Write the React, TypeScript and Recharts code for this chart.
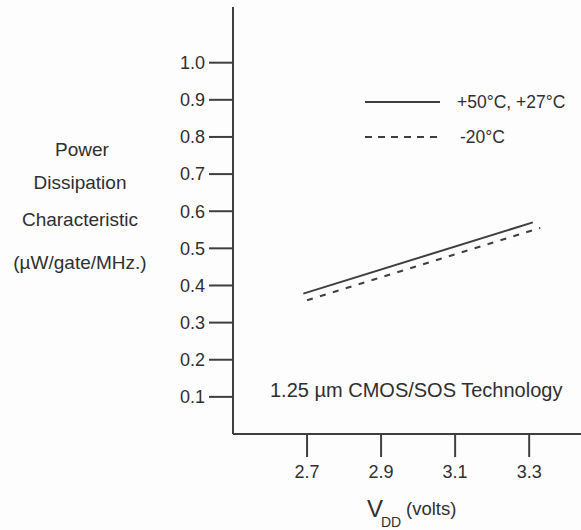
import React from 'react';
import { LineChart, Line, XAxis, YAxis, Legend, Customized } from 'recharts';

// Data
const warmVdd = [2.69, 3.31];
const warmPower = [0.378, 0.57];
const coldVdd = [2.7, 3.33];
const coldPower = [0.36, 0.555];

const xTicks = [2.7, 2.9, 3.1, 3.3];
const yTicks = [0.1, 0.2, 0.3, 0.4, 0.5, 0.6, 0.7, 0.8, 0.9, 1.0];

const seriesNames = ['+50°C, +27°C', '-20°C'];
const yLabelLines = ['Power', 'Dissipation', 'Characteristic', '(µW/gate/MHz.)'];
const noteText = '1.25 µm CMOS/SOS Technology';

const warmData = warmVdd.map((v, i) => ({ v, p: warmPower[i] }));
const coldData = coldVdd.map((v, i) => ({ v, p: coldPower[i] }));

const FONT = '"Liberation Sans", Arial, Helvetica, sans-serif';
const INK = '#2f2f2f';
const LINE = '#3f3f3f';

const LegendBox = () => (
  <svg width={221} height={60} style={{ display: 'block' }}>
    <line x1={5} x2={80} y1={12} y2={12} stroke={LINE} strokeWidth={2} />
    <text x={97} y={18} fontSize={17.5} fontFamily={FONT} fill={INK}>{seriesNames[0]}</text>
    <line x1={5} x2={80} y1={47} y2={47} stroke={LINE} strokeWidth={2} strokeDasharray="7 6" />
    <text x={100} y={53} fontSize={17.5} fontFamily={FONT} fill={INK}>{seriesNames[1]}</text>
  </svg>
);

const Texts = () => (
  <g fontFamily={FONT} fill={INK}>
    <text textAnchor="middle" fontSize={19}>
      <tspan x={82} y={155.5}>{yLabelLines[0]}</tspan>
      <tspan x={80} y={188.5}>{yLabelLines[1]}</tspan>
      <tspan x={80} y={225.5}>{yLabelLines[2]}</tspan>
      <tspan x={80} y={269}>{yLabelLines[3]}</tspan>
    </text>
    <text x={270} y={397} fontSize={20}>{noteText}</text>
    <text x={367} y={517} fontSize={24}>V</text>
    <text x={381} y={527} fontSize={14}>DD</text>
    <text x={406} y={515} fontSize={18.5}>(volts)</text>
  </g>
);

export default function App() {
  return (
    <div style={{ position: 'absolute', left: 0, top: 0, width: 581, height: 530, background: '#fdfdfd' }}>
      <LineChart width={581} height={530} margin={{ top: 7, right: 0, left: 0, bottom: 0 }}>
        <XAxis
          type="number"
          dataKey="v"
          domain={[2.5, 3.44]}
          allowDataOverflow
          ticks={xTicks}
          interval={0}
          height={96}
          tickSize={23}
          tickMargin={8}
          tickFormatter={(t: number) => t.toFixed(1)}
          axisLine={{ stroke: LINE, strokeWidth: 2 }}
          tickLine={{ stroke: LINE, strokeWidth: 2 }}
          tick={{ fontSize: 18, fill: INK, fontFamily: FONT }}
        />
        <YAxis
          type="number"
          dataKey="p"
          domain={[0, 1.15]}
          allowDataOverflow
          ticks={yTicks}
          interval={0}
          width={233}
          tickSize={24}
          tickMargin={4}
          tickFormatter={(t: number) => t.toFixed(1)}
          axisLine={{ stroke: LINE, strokeWidth: 2 }}
          tickLine={{ stroke: LINE, strokeWidth: 2 }}
          tick={{ fontSize: 18, fill: INK, fontFamily: FONT }}
        />
        <Line
          data={warmData}
          dataKey="p"
          name={seriesNames[0]}
          type="linear"
          stroke={LINE}
          strokeWidth={2}
          dot={false}
          activeDot={false}
          isAnimationActive={false}
        />
        <Line
          data={coldData}
          dataKey="p"
          name={seriesNames[1]}
          type="linear"
          stroke={LINE}
          strokeWidth={2}
          strokeDasharray="6 7.5"
          dot={false}
          activeDot={false}
          isAnimationActive={false}
        />
        <Legend
          layout="horizontal"
          verticalAlign="middle"
          align="center"
          content={() => <LegendBox />}
          wrapperStyle={{ position: 'absolute', left: 360, top: 90, width: 221, height: 60 }}
        />
        <Customized component={Texts} />
      </LineChart>
    </div>
  );
}
